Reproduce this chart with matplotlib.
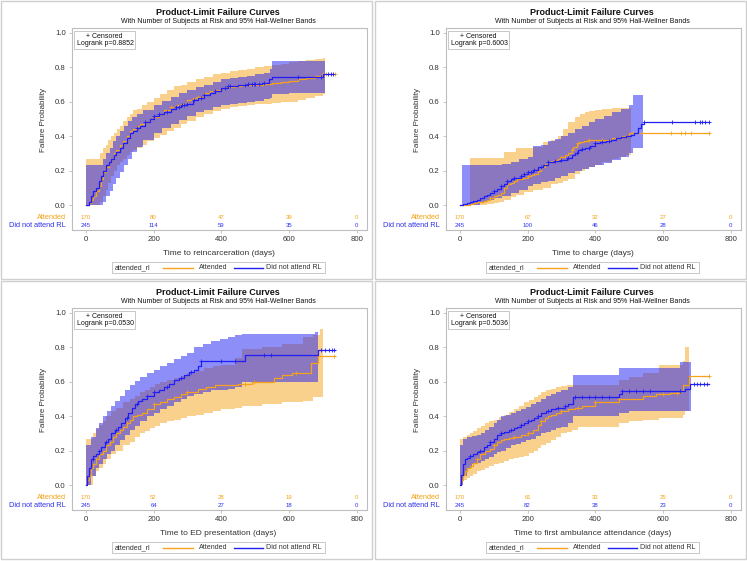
import matplotlib
matplotlib.use("Agg")
import matplotlib.pyplot as plt
import matplotlib.transforms as mtransforms
import numpy as np
from matplotlib.lines import Line2D
from matplotlib.patches import Rectangle

# ---- panel 1: reincarceration ----
R_ATT_T = [0, 8, 15, 22, 30, 38, 45, 52, 60, 68, 75, 83, 90, 100, 110, 120, 130, 140, 150, 160, 175, 190, 200, 215, 230, 250, 265, 280, 300, 315, 330, 350, 365, 380, 400, 420, 440, 460, 480, 500, 525, 550, 575, 600, 625, 650, 675, 700, 735]
R_ATT_F = [0, 0.01, 0.03, 0.05, 0.08, 0.11, 0.15, 0.19, 0.22, 0.25, 0.27, 0.30, 0.32, 0.35, 0.37, 0.40, 0.43, 0.44, 0.46, 0.47, 0.48, 0.50, 0.51, 0.53, 0.55, 0.57, 0.58, 0.59, 0.61, 0.62, 0.63, 0.65, 0.66, 0.67, 0.68, 0.685, 0.69, 0.695, 0.70, 0.70, 0.705, 0.71, 0.715, 0.72, 0.73, 0.74, 0.75, 0.76, 0.76]
R_DNA_T = [0, 8, 15, 22, 30, 38, 45, 52, 60, 68, 75, 83, 90, 100, 110, 120, 130, 140, 150, 160, 175, 190, 200, 215, 230, 250, 265, 280, 300, 315, 330, 350, 365, 380, 400, 420, 450, 480, 520, 540, 550, 700, 730]
R_DNA_F = [0, 0.02, 0.05, 0.08, 0.10, 0.14, 0.17, 0.20, 0.23, 0.25, 0.27, 0.29, 0.31, 0.33, 0.36, 0.39, 0.42, 0.43, 0.45, 0.46, 0.48, 0.50, 0.52, 0.53, 0.54, 0.56, 0.57, 0.58, 0.59, 0.61, 0.62, 0.64, 0.65, 0.66, 0.68, 0.69, 0.70, 0.705, 0.71, 0.73, 0.745, 0.76, 0.76]
R_ATT_BT = [0, 35, 42, 50, 58, 66, 75, 83, 91, 100, 110, 120, 130, 140, 150, 165, 180, 200, 220, 240, 260, 280, 300, 325, 350, 375, 400, 425, 450, 475, 500, 525, 550, 575, 600, 625, 650, 675, 700, 705]
R_ATT_LO = [0, 0, 0.02, 0.05, 0.09, 0.13, 0.17, 0.20, 0.23, 0.25, 0.27, 0.29, 0.31, 0.32, 0.33, 0.35, 0.37, 0.39, 0.41, 0.43, 0.45, 0.47, 0.49, 0.51, 0.53, 0.545, 0.56, 0.57, 0.575, 0.58, 0.585, 0.59, 0.595, 0.60, 0.60, 0.61, 0.625, 0.635, 0.645, 0.645]
R_ATT_HI = [0.27, 0.27, 0.30, 0.33, 0.35, 0.38, 0.40, 0.42, 0.44, 0.46, 0.49, 0.51, 0.53, 0.55, 0.56, 0.58, 0.60, 0.62, 0.645, 0.67, 0.69, 0.70, 0.715, 0.73, 0.745, 0.76, 0.77, 0.78, 0.785, 0.79, 0.80, 0.81, 0.815, 0.82, 0.83, 0.835, 0.845, 0.85, 0.855, 0.855]
R_DNA_BT = [0, 40, 50, 60, 70, 80, 90, 100, 112, 125, 137, 150, 170, 200, 225, 250, 275, 300, 325, 350, 375, 400, 425, 450, 475, 500, 525, 545, 550, 600, 650, 700, 705]
R_DNA_LO = [0, 0, 0.02, 0.05, 0.08, 0.12, 0.16, 0.19, 0.23, 0.27, 0.31, 0.34, 0.38, 0.42, 0.445, 0.47, 0.495, 0.52, 0.54, 0.555, 0.57, 0.58, 0.59, 0.595, 0.60, 0.605, 0.615, 0.625, 0.645, 0.65, 0.65, 0.65, 0.65]
R_DNA_HI = [0.23, 0.23, 0.27, 0.30, 0.33, 0.37, 0.40, 0.43, 0.46, 0.49, 0.51, 0.53, 0.555, 0.58, 0.605, 0.63, 0.65, 0.67, 0.685, 0.70, 0.715, 0.73, 0.74, 0.745, 0.75, 0.76, 0.77, 0.79, 0.835, 0.835, 0.835, 0.835, 0.835]
R_ATT_CENS = [250, 330, 470, 700, 710, 735]
R_DNA_CENS = [150, 175, 200, 215, 240, 265, 275, 285, 290, 300, 320, 340, 350, 380, 410, 420, 425, 470, 480, 490, 495, 500, 510, 525, 625, 695, 715, 725, 730]

# ---- panel 2: charge ----
C_ATT_T = [0, 20, 30, 40, 50, 60, 70, 80, 90, 100, 110, 120, 130, 140, 150, 160, 170, 185, 200, 210, 220, 230, 240, 250, 260, 270, 280, 290, 300, 310, 320, 330, 335, 345, 355, 365, 380, 420, 450, 480, 500, 735]
C_ATT_F = [0, 0, 0.005, 0.01, 0.015, 0.02, 0.025, 0.03, 0.04, 0.05, 0.06, 0.07, 0.10, 0.12, 0.13, 0.14, 0.15, 0.16, 0.17, 0.175, 0.18, 0.20, 0.22, 0.24, 0.25, 0.255, 0.26, 0.27, 0.28, 0.29, 0.30, 0.32, 0.34, 0.36, 0.365, 0.37, 0.38, 0.38, 0.39, 0.40, 0.42, 0.42]
C_DNA_T = [0, 10, 20, 30, 40, 50, 60, 70, 80, 90, 100, 110, 120, 130, 140, 150, 160, 170, 180, 190, 200, 215, 230, 245, 260, 280, 300, 315, 330, 340, 350, 360, 370, 385, 400, 415, 430, 445, 460, 475, 490, 505, 515, 525, 535, 545, 735]
C_DNA_F = [0, 0.005, 0.01, 0.02, 0.025, 0.03, 0.04, 0.05, 0.06, 0.07, 0.08, 0.095, 0.11, 0.125, 0.14, 0.15, 0.155, 0.16, 0.17, 0.18, 0.19, 0.205, 0.22, 0.235, 0.25, 0.255, 0.26, 0.275, 0.29, 0.30, 0.32, 0.325, 0.33, 0.345, 0.36, 0.365, 0.37, 0.38, 0.39, 0.395, 0.40, 0.41, 0.42, 0.45, 0.47, 0.485, 0.485]
C_ATT_BT = [30, 60, 80, 100, 115, 130, 150, 165, 190, 215, 245, 270, 290, 305, 320, 340, 355, 370, 380, 400, 420, 450, 470, 490, 505]
C_ATT_LO = [0, 0, 0.005, 0.01, 0.02, 0.03, 0.045, 0.06, 0.075, 0.09, 0.10, 0.12, 0.13, 0.14, 0.15, 0.18, 0.20, 0.21, 0.22, 0.235, 0.25, 0.265, 0.28, 0.29, 0.29]
C_ATT_HI = [0.275, 0.275, 0.275, 0.275, 0.275, 0.31, 0.31, 0.33, 0.33, 0.335, 0.365, 0.38, 0.40, 0.44, 0.48, 0.51, 0.53, 0.54, 0.545, 0.555, 0.56, 0.565, 0.565, 0.565, 0.565]
C_DNA_BT = [5, 30, 60, 80, 100, 125, 150, 175, 200, 215, 240, 260, 280, 300, 320, 340, 360, 380, 400, 425, 450, 475, 500, 510, 540]
C_DNA_LO = [0, 0, 0.02, 0.03, 0.04, 0.055, 0.07, 0.09, 0.11, 0.12, 0.135, 0.14, 0.155, 0.17, 0.185, 0.20, 0.21, 0.22, 0.23, 0.245, 0.26, 0.28, 0.30, 0.33, 0.33]
C_DNA_HI = [0.23, 0.23, 0.23, 0.23, 0.23, 0.24, 0.25, 0.265, 0.28, 0.345, 0.35, 0.37, 0.385, 0.40, 0.42, 0.44, 0.46, 0.48, 0.50, 0.52, 0.54, 0.56, 0.58, 0.64, 0.64]
C_ATT_CENS = [90, 140, 200, 300, 330, 350, 380, 420, 510, 622, 653, 665, 681, 735]
C_DNA_CENS = [100, 120, 140, 160, 180, 190, 200, 210, 220, 240, 260, 280, 300, 320, 345, 360, 380, 400, 420, 440, 545, 626, 693, 708, 716, 723, 735]

# ---- panel 3: ED presentation ----
E_ATT_T = [0, 3, 8, 15, 22, 30, 40, 50, 60, 70, 80, 90, 100, 110, 120, 130, 140, 150, 165, 180, 200, 220, 240, 260, 280, 300, 330, 355, 380, 420, 450, 490, 555, 580, 610, 665, 685, 735]
E_ATT_F = [0, 0.03, 0.06, 0.10, 0.12, 0.15, 0.18, 0.20, 0.23, 0.25, 0.28, 0.30, 0.32, 0.34, 0.36, 0.38, 0.40, 0.41, 0.42, 0.44, 0.47, 0.48, 0.50, 0.51, 0.53, 0.54, 0.56, 0.57, 0.58, 0.58, 0.585, 0.60, 0.62, 0.64, 0.65, 0.71, 0.75, 0.75]
E_DNA_T = [0, 3, 8, 15, 22, 30, 38, 45, 55, 65, 75, 85, 95, 105, 115, 125, 135, 145, 155, 165, 180, 200, 215, 230, 245, 260, 275, 290, 305, 320, 330, 340, 470, 685, 735]
E_DNA_F = [0, 0.05, 0.10, 0.15, 0.17, 0.18, 0.20, 0.22, 0.25, 0.27, 0.30, 0.32, 0.34, 0.36, 0.39, 0.42, 0.45, 0.47, 0.49, 0.50, 0.52, 0.54, 0.555, 0.57, 0.59, 0.61, 0.625, 0.64, 0.655, 0.67, 0.69, 0.72, 0.755, 0.785, 0.785]
E_ATT_BT = [0, 10, 20, 30, 40, 50, 60, 75, 90, 110, 130, 145, 160, 175, 190, 205, 220, 240, 260, 280, 300, 325, 350, 375, 400, 440, 460, 520, 580, 640, 670, 690, 700]
E_ATT_LO = [0, 0, 0.05, 0.08, 0.10, 0.12, 0.15, 0.18, 0.20, 0.23, 0.25, 0.28, 0.30, 0.315, 0.33, 0.345, 0.36, 0.37, 0.38, 0.39, 0.40, 0.41, 0.42, 0.43, 0.44, 0.45, 0.46, 0.47, 0.48, 0.49, 0.51, 0.51, 0.51]
E_ATT_HI = [0.27, 0.27, 0.30, 0.325, 0.35, 0.375, 0.40, 0.43, 0.45, 0.48, 0.50, 0.52, 0.54, 0.555, 0.57, 0.585, 0.60, 0.61, 0.62, 0.635, 0.65, 0.665, 0.68, 0.69, 0.70, 0.74, 0.79, 0.80, 0.82, 0.86, 0.87, 0.905, 0.905]
E_DNA_BT = [0, 15, 30, 40, 50, 62, 75, 87, 100, 115, 130, 145, 160, 180, 200, 220, 240, 260, 280, 300, 320, 345, 370, 395, 420, 440, 460, 675, 684]
E_DNA_LO = [0, 0.05, 0.10, 0.12, 0.15, 0.18, 0.20, 0.23, 0.26, 0.29, 0.32, 0.345, 0.37, 0.40, 0.42, 0.44, 0.46, 0.48, 0.50, 0.515, 0.53, 0.54, 0.55, 0.555, 0.56, 0.57, 0.60, 0.60, 0.60]
E_DNA_HI = [0.23, 0.28, 0.33, 0.36, 0.40, 0.43, 0.46, 0.49, 0.52, 0.55, 0.58, 0.605, 0.63, 0.65, 0.67, 0.69, 0.71, 0.73, 0.75, 0.77, 0.80, 0.82, 0.84, 0.85, 0.86, 0.87, 0.88, 0.89, 0.89]
E_ATT_CENS = [30, 120, 200, 300, 470, 497, 620, 734]
E_DNA_CENS = [20, 40, 60, 90, 120, 150, 180, 200, 240, 280, 310, 340, 400, 440, 527, 547, 694, 707, 717, 727, 734]

# ---- panel 4: first ambulance attendance ----
A_ATT_T = [0, 3, 8, 15, 20, 30, 40, 50, 60, 75, 90, 100, 110, 120, 130, 145, 160, 180, 200, 215, 230, 240, 250, 260, 270, 285, 300, 320, 340, 360, 400, 470, 540, 580, 620, 650, 660, 675, 735]
A_ATT_F = [0, 0.03, 0.06, 0.08, 0.10, 0.11, 0.13, 0.15, 0.18, 0.20, 0.21, 0.23, 0.25, 0.26, 0.27, 0.275, 0.28, 0.29, 0.30, 0.32, 0.35, 0.37, 0.39, 0.40, 0.41, 0.42, 0.43, 0.44, 0.45, 0.46, 0.48, 0.50, 0.52, 0.53, 0.535, 0.545, 0.58, 0.635, 0.635]
A_DNA_T = [0, 3, 8, 15, 22, 30, 40, 50, 60, 70, 80, 90, 100, 110, 120, 130, 145, 160, 170, 180, 190, 200, 210, 220, 230, 240, 255, 270, 285, 300, 310, 320, 335, 470, 480, 665, 680, 735]
A_DNA_F = [0, 0.06, 0.12, 0.15, 0.16, 0.17, 0.18, 0.19, 0.20, 0.22, 0.235, 0.25, 0.27, 0.29, 0.30, 0.31, 0.32, 0.33, 0.34, 0.35, 0.36, 0.37, 0.38, 0.39, 0.40, 0.42, 0.43, 0.44, 0.445, 0.45, 0.46, 0.47, 0.51, 0.53, 0.545, 0.56, 0.585, 0.585]
A_ATT_BT = [0, 10, 20, 30, 40, 50, 62, 75, 87, 100, 115, 130, 145, 160, 175, 190, 205, 220, 230, 240, 255, 270, 285, 300, 315, 330, 350, 470, 500, 540, 587, 660, 665, 675]
A_ATT_LO = [0, 0.03, 0.04, 0.05, 0.065, 0.08, 0.09, 0.10, 0.11, 0.12, 0.13, 0.14, 0.15, 0.16, 0.165, 0.17, 0.185, 0.20, 0.215, 0.23, 0.245, 0.26, 0.28, 0.30, 0.31, 0.32, 0.34, 0.36, 0.37, 0.38, 0.39, 0.41, 0.43, 0.43]
A_ATT_HI = [0.27, 0.28, 0.29, 0.30, 0.315, 0.33, 0.345, 0.36, 0.37, 0.38, 0.395, 0.41, 0.425, 0.44, 0.46, 0.48, 0.495, 0.51, 0.525, 0.54, 0.55, 0.56, 0.57, 0.575, 0.58, 0.58, 0.58, 0.61, 0.63, 0.65, 0.70, 0.72, 0.80, 0.80]
A_DNA_BT = [0, 10, 20, 35, 50, 62, 75, 87, 100, 110, 120, 135, 150, 165, 180, 195, 210, 225, 240, 255, 270, 285, 300, 320, 335, 350, 470, 500, 650, 683]
A_DNA_LO = [0, 0.05, 0.10, 0.12, 0.13, 0.14, 0.15, 0.165, 0.18, 0.19, 0.20, 0.215, 0.23, 0.24, 0.25, 0.26, 0.27, 0.285, 0.30, 0.31, 0.32, 0.33, 0.34, 0.36, 0.40, 0.40, 0.42, 0.43, 0.43, 0.43]
A_DNA_HI = [0.23, 0.27, 0.28, 0.285, 0.29, 0.305, 0.32, 0.34, 0.36, 0.38, 0.40, 0.41, 0.42, 0.43, 0.44, 0.455, 0.47, 0.485, 0.50, 0.515, 0.53, 0.54, 0.55, 0.57, 0.64, 0.64, 0.68, 0.68, 0.715, 0.715]
A_ATT_CENS = [50, 100, 160, 200, 240, 300, 350, 400, 470, 600, 640, 735]
A_DNA_CENS = [30, 60, 90, 120, 150, 180, 200, 230, 260, 290, 310, 340, 360, 380, 400, 420, 440, 480, 500, 520, 540, 560, 650, 690, 700, 710, 720, 730]

# at-risk table and text
RISK_TIMES = [0, 200, 400, 600, 800]
R_RISK_ATT = [170, 80, 47, 39, 0]
R_RISK_DNA = [245, 114, 59, 35, 0]
C_RISK_ATT = [170, 67, 32, 27, 0]
C_RISK_DNA = [245, 100, 46, 28, 0]
E_RISK_ATT = [170, 52, 28, 19, 0]
E_RISK_DNA = [245, 64, 27, 18, 0]
A_RISK_ATT = [170, 61, 33, 25, 0]
A_RISK_DNA = [245, 82, 38, 23, 0]
PVALUES = ["0.8852", "0.6003", "0.0530", "0.5036"]
XLABELS = ["Time to reincarceration (days)", "Time to charge (days)",
           "Time to ED presentation (days)", "Time to first ambulance attendance (days)"]
GROUPS = ["Attended", "Did not attend RL"]

ORANGE = "#F5A31A"
BLUE = "#1E1EF5"
ORANGE_TXT = "#F5A31A"
BLUE_TXT = "#3030F0"
FRAME = "#BDBDBD"
TXT = "#333333"

W, H = 747, 561
plt.rcParams["font.family"] = ["Liberation Sans", "DejaVu Sans"]


def step_at(t, f, c):
    t = np.asarray(t)
    i = np.searchsorted(t, c, side="right") - 1
    return np.asarray(f)[np.clip(i, 0, len(f) - 1)]


def draw_panel(fig, ox, oy, curves, bands, cens, risk, pval, xlabel):
    # axes frame in panel pixels: x 72..367, y 28..230
    ax = fig.add_axes([(ox + 72) / W, 1 - (oy + 230) / H, 295 / W, 202 / H])
    ax.set_xlim(-41, 830)
    ax.set_ylim(-0.145, 1.029)

    colors = [ORANGE, BLUE]
    for (bt, lo, hi), col in zip(bands, colors):
        ax.fill_between(bt, lo, hi, step="post", color=col, alpha=0.5, lw=0)
    for (t, f), c, col in zip(curves, cens, colors):
        ax.step(t, f, where="post", color=col, lw=0.9)
        ax.plot(c, step_at(t, f, c), ls="none", marker="+", ms=3.5, mew=0.6, color=col)

    ax.set_xticks([0, 200, 400, 600, 800])
    ax.set_yticks([0, 0.2, 0.4, 0.6, 0.8, 1.0])
    ax.set_yticklabels([f"{v:.1f}" for v in [0, 0.2, 0.4, 0.6, 0.8, 1.0]])
    ax.tick_params(labelsize=5.6, colors=FRAME, labelcolor=TXT, length=2.5, width=0.6, pad=2)
    for s in ax.spines.values():
        s.set_color(FRAME)
        s.set_linewidth(0.8)

    # at-risk rows
    blend = mtransforms.blended_transform_factory(ax.transAxes, ax.transData)
    for row_y, nums, col, name in zip([-0.07, -0.116], risk, [ORANGE_TXT, BLUE_TXT], GROUPS):
        for t, n in zip(RISK_TIMES, nums):
            ax.text(t, row_y, str(n), ha="center", va="center", fontsize=4.3, color=col)
        ax.text(-0.02, row_y, name, transform=blend, ha="right", va="center",
                fontsize=5.3, color=col, clip_on=False)

    # titles and labels
    ax.text(0.496, 1.079, "Product-Limit Failure Curves", transform=ax.transAxes,
            ha="center", va="center", fontsize=6.5, fontweight="bold", color="#111111")
    ax.text(0.496, 1.032, "With Number of Subjects at Risk and 95% Hall-Wellner Bands",
            transform=ax.transAxes, ha="center", va="center", fontsize=5.0, color="#111111")
    ax.text(0.497, -0.114, xlabel, transform=ax.transAxes, ha="center", va="center",
            fontsize=6.0, color=TXT)
    ax.text(-0.098, 0.545, "Failure Probability", transform=ax.transAxes, ha="center",
            va="center", rotation=90, fontsize=5.8, color=TXT)

    # inset box
    ax.add_patch(Rectangle((0.0068, 0.896), 0.207, 0.089, transform=ax.transAxes,
                           facecolor="white", edgecolor="#C8C8C8", lw=0.7, zorder=5))
    ax.text(0.11, 0.960, "+ Censored", transform=ax.transAxes, ha="center", va="center",
            fontsize=5.0, color="#111111", zorder=6)
    ax.text(0.017, 0.921, f"Logrank p={pval}", transform=ax.transAxes, ha="left",
            va="center", fontsize=5.0, color="#111111", zorder=6)

    # legend below the axis label
    ax.add_patch(Rectangle((0.1356, -0.2129), 0.722, 0.0545, transform=ax.transAxes,
                           facecolor="white", edgecolor="#C8C8C8", lw=0.7, clip_on=False))
    ly = -0.187
    ax.text((115 - 72) / 295, ly, "attended_rl", transform=ax.transAxes, ha="left",
            va="center", fontsize=5.1, color=TXT)
    ax.add_line(Line2D([(163 - 72) / 295, (193 - 72) / 295], [ly, ly], transform=ax.transAxes,
                       color=ORANGE, lw=1.0, clip_on=False))
    ax.text((199 - 72) / 295, ly, GROUPS[0], transform=ax.transAxes, ha="left",
            va="center", fontsize=5.1, color=TXT)
    ax.add_line(Line2D([(234 - 72) / 295, (263 - 72) / 295], [ly, ly], transform=ax.transAxes,
                       color=BLUE, lw=1.0, clip_on=False))
    ax.text((266 - 72) / 295, ly, GROUPS[1], transform=ax.transAxes, ha="left",
            va="center", fontsize=5.1, color=TXT)

    # panel border
    fig.add_artist(Rectangle(((ox + 1) / W, 1 - (oy + 279) / H), 371 / W, 278 / H,
                             transform=fig.transFigure, fill=False, edgecolor="#CFCFCF", lw=1.0))
    return ax


fig = plt.figure(figsize=(W / 100, H / 100), dpi=100)
fig.patch.set_facecolor("white")

panels = [
    (0, 0, [(R_ATT_T, R_ATT_F), (R_DNA_T, R_DNA_F)],
     [(R_ATT_BT, R_ATT_LO, R_ATT_HI), (R_DNA_BT, R_DNA_LO, R_DNA_HI)],
     [R_ATT_CENS, R_DNA_CENS], [R_RISK_ATT, R_RISK_DNA]),
    (374, 0, [(C_ATT_T, C_ATT_F), (C_DNA_T, C_DNA_F)],
     [(C_ATT_BT, C_ATT_LO, C_ATT_HI), (C_DNA_BT, C_DNA_LO, C_DNA_HI)],
     [C_ATT_CENS, C_DNA_CENS], [C_RISK_ATT, C_RISK_DNA]),
    (0, 280, [(E_ATT_T, E_ATT_F), (E_DNA_T, E_DNA_F)],
     [(E_ATT_BT, E_ATT_LO, E_ATT_HI), (E_DNA_BT, E_DNA_LO, E_DNA_HI)],
     [E_ATT_CENS, E_DNA_CENS], [E_RISK_ATT, E_RISK_DNA]),
    (374, 280, [(A_ATT_T, A_ATT_F), (A_DNA_T, A_DNA_F)],
     [(A_ATT_BT, A_ATT_LO, A_ATT_HI), (A_DNA_BT, A_DNA_LO, A_DNA_HI)],
     [A_ATT_CENS, A_DNA_CENS], [A_RISK_ATT, A_RISK_DNA]),
]

for k, (ox, oy, curves, bands, cens, risk) in enumerate(panels):
    draw_panel(fig, ox, oy, curves, bands, cens, risk, PVALUES[k], XLABELS[k])

fig.savefig("out.png", dpi=100)
